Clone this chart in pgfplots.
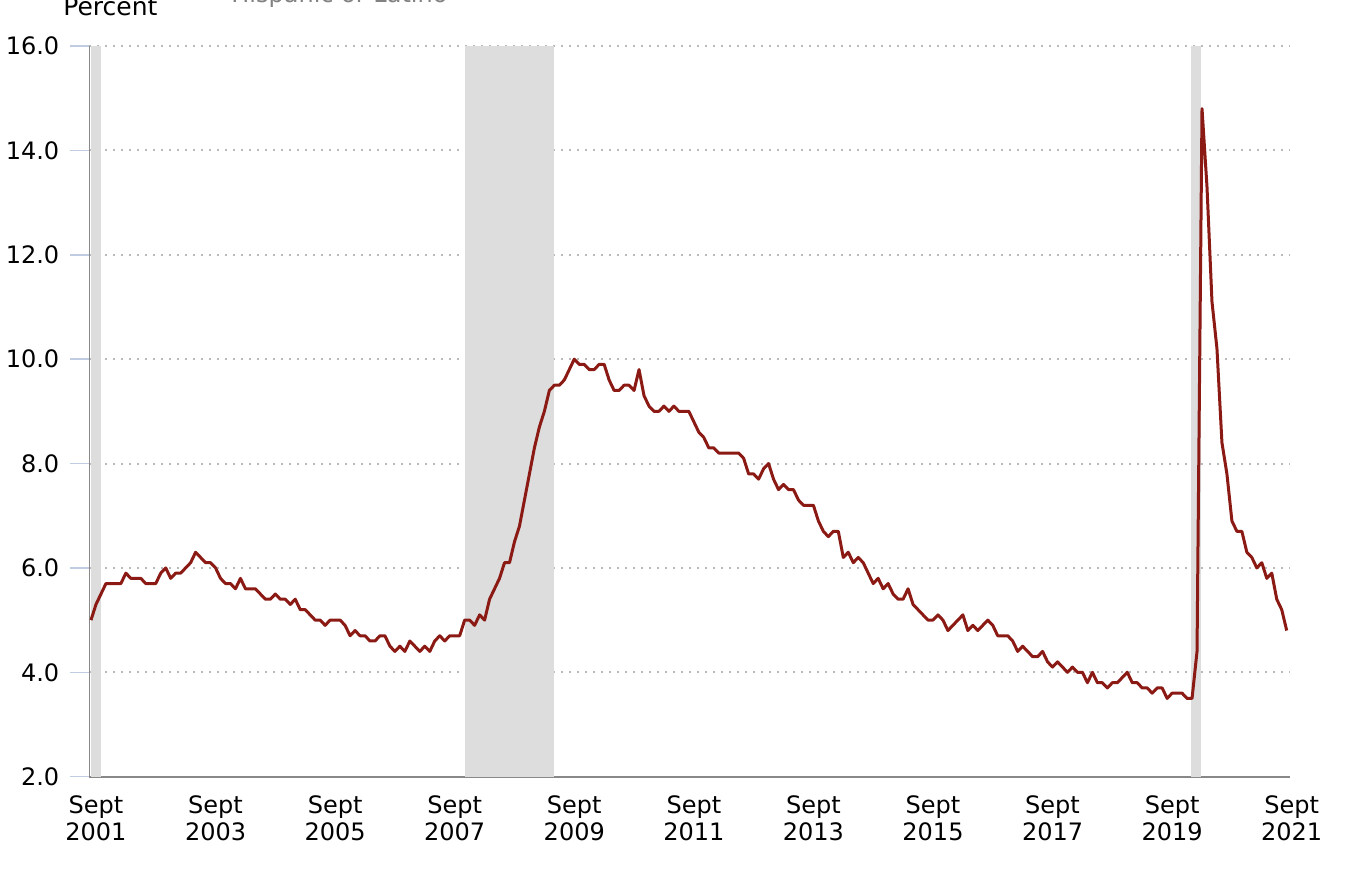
\documentclass[border=0pt]{standalone}
\usepackage{fontspec}
\setmainfont{DejaVu Sans}
\usepackage{pgfplots}
\pgfplotsset{compat=1.18}
\usepackage{pgfplotstable}
\definecolor{linered}{RGB}{139,26,20}
\definecolor{recess}{RGB}{221,221,221}
\definecolor{gridgray}{RGB}{185,185,185}
\definecolor{axgray}{RGB}{136,136,136}
\definecolor{tickblue}{RGB}{192,204,226}
\definecolor{legray}{RGB}{130,130,130}

\pgfplotstableread[row sep=\\]{
m u\\
0 5.0\\ 1 5.3\\ 2 5.5\\ 3 5.7\\
4 5.7\\ 5 5.7\\ 6 5.7\\ 7 5.9\\ 8 5.8\\ 9 5.8\\ 10 5.8\\ 11 5.7\\ 12 5.7\\ 13 5.7\\ 14 5.9\\ 15 6.0\\
16 5.8\\ 17 5.9\\ 18 5.9\\ 19 6.0\\ 20 6.1\\ 21 6.3\\ 22 6.2\\ 23 6.1\\ 24 6.1\\ 25 6.0\\ 26 5.8\\ 27 5.7\\
28 5.7\\ 29 5.6\\ 30 5.8\\ 31 5.6\\ 32 5.6\\ 33 5.6\\ 34 5.5\\ 35 5.4\\ 36 5.4\\ 37 5.5\\ 38 5.4\\ 39 5.4\\
40 5.3\\ 41 5.4\\ 42 5.2\\ 43 5.2\\ 44 5.1\\ 45 5.0\\ 46 5.0\\ 47 4.9\\ 48 5.0\\ 49 5.0\\ 50 5.0\\ 51 4.9\\
52 4.7\\ 53 4.8\\ 54 4.7\\ 55 4.7\\ 56 4.6\\ 57 4.6\\ 58 4.7\\ 59 4.7\\ 60 4.5\\ 61 4.4\\ 62 4.5\\ 63 4.4\\
64 4.6\\ 65 4.5\\ 66 4.4\\ 67 4.5\\ 68 4.4\\ 69 4.6\\ 70 4.7\\ 71 4.6\\ 72 4.7\\ 73 4.7\\ 74 4.7\\ 75 5.0\\
76 5.0\\ 77 4.9\\ 78 5.1\\ 79 5.0\\ 80 5.4\\ 81 5.6\\ 82 5.8\\ 83 6.1\\ 84 6.1\\ 85 6.5\\ 86 6.8\\ 87 7.3\\
88 7.8\\ 89 8.3\\ 90 8.7\\ 91 9.0\\ 92 9.4\\ 93 9.5\\ 94 9.5\\ 95 9.6\\ 96 9.8\\ 97 10.0\\ 98 9.9\\ 99 9.9\\
100 9.8\\ 101 9.8\\ 102 9.9\\ 103 9.9\\ 104 9.6\\ 105 9.4\\ 106 9.4\\ 107 9.5\\ 108 9.5\\ 109 9.4\\ 110 9.8\\ 111 9.3\\
112 9.1\\ 113 9.0\\ 114 9.0\\ 115 9.1\\ 116 9.0\\ 117 9.1\\ 118 9.0\\ 119 9.0\\ 120 9.0\\ 121 8.8\\ 122 8.6\\ 123 8.5\\
124 8.3\\ 125 8.3\\ 126 8.2\\ 127 8.2\\ 128 8.2\\ 129 8.2\\ 130 8.2\\ 131 8.1\\ 132 7.8\\ 133 7.8\\ 134 7.7\\ 135 7.9\\
136 8.0\\ 137 7.7\\ 138 7.5\\ 139 7.6\\ 140 7.5\\ 141 7.5\\ 142 7.3\\ 143 7.2\\ 144 7.2\\ 145 7.2\\ 146 6.9\\ 147 6.7\\
148 6.6\\ 149 6.7\\ 150 6.7\\ 151 6.2\\ 152 6.3\\ 153 6.1\\ 154 6.2\\ 155 6.1\\ 156 5.9\\ 157 5.7\\ 158 5.8\\ 159 5.6\\
160 5.7\\ 161 5.5\\ 162 5.4\\ 163 5.4\\ 164 5.6\\ 165 5.3\\ 166 5.2\\ 167 5.1\\ 168 5.0\\ 169 5.0\\ 170 5.1\\ 171 5.0\\
172 4.8\\ 173 4.9\\ 174 5.0\\ 175 5.1\\ 176 4.8\\ 177 4.9\\ 178 4.8\\ 179 4.9\\ 180 5.0\\ 181 4.9\\ 182 4.7\\ 183 4.7\\
184 4.7\\ 185 4.6\\ 186 4.4\\ 187 4.5\\ 188 4.4\\ 189 4.3\\ 190 4.3\\ 191 4.4\\ 192 4.2\\ 193 4.1\\ 194 4.2\\ 195 4.1\\
196 4.0\\ 197 4.1\\ 198 4.0\\ 199 4.0\\ 200 3.8\\ 201 4.0\\ 202 3.8\\ 203 3.8\\ 204 3.7\\ 205 3.8\\ 206 3.8\\ 207 3.9\\
208 4.0\\ 209 3.8\\ 210 3.8\\ 211 3.7\\ 212 3.7\\ 213 3.6\\ 214 3.7\\ 215 3.7\\ 216 3.5\\ 217 3.6\\ 218 3.6\\ 219 3.6\\
220 3.5\\ 221 3.5\\ 222 4.4\\ 223 14.8\\ 224 13.3\\ 225 11.1\\ 226 10.2\\ 227 8.4\\ 228 7.8\\ 229 6.9\\ 230 6.7\\ 231 6.7\\
232 6.3\\ 233 6.2\\ 234 6.0\\ 235 6.1\\ 236 5.8\\ 237 5.9\\ 238 5.4\\ 239 5.2\\ 240 4.8\\
}\unemp

\begin{document}
\begin{tikzpicture}
\begin{axis}[name=ax,
  scale only axis, width=600.35pt, height=365.35pt,
  xmin=-0.34, xmax=240.66, ymin=2, ymax=16,
  axis x line*=bottom, axis y line*=left,
  x axis line style={draw=axgray, line width=1.1pt, -},
  y axis line style={draw=axgray, line width=0.75pt, -},
  ytick={2,4,...,16},
  /pgf/number format/assume math mode=true,
  yticklabel style={/pgf/number format/fixed, /pgf/number format/fixed zerofill, /pgf/number format/precision=1, xshift=-2pt},
  xtick={0,24,...,240},
  xticklabels={Sept\\2001,Sept\\2003,Sept\\2005,Sept\\2007,Sept\\2009,Sept\\2011,Sept\\2013,Sept\\2015,Sept\\2017,Sept\\2019,Sept\\2021},
  xticklabel style={align=center, yshift=3.5pt, xshift=2.5pt},
  tick label style={font=\fontsize{12}{13.5}\selectfont, text=black},
  ymajorgrids, grid style={draw=gridgray, line width=1pt, dash pattern=on 1pt off 3pt},
  tick align=outside, major tick length=9.5pt,
  xtick style={draw=none}, ytick style={draw=tickblue, line width=0.75pt},
]
\addplot[fill=recess, draw=none] coordinates {(0,2) (0,16) (2,16) (2,2)} -- cycle;
\addplot[fill=recess, draw=none] coordinates {(75,2) (75,16) (93,16) (93,2)} -- cycle;
\addplot[fill=recess, draw=none] coordinates {(220.8,2) (220.8,16) (222.8,16) (222.8,2)} -- cycle;
\addplot[linered, line width=1.5pt, line join=round, mark=none] table[x=m, y=u] {\unemp};
\end{axis}
\node[anchor=base west, font=\fontsize{12.5}{15}\selectfont] at ([shift={(-16.5pt,15pt)}]ax.north west) {Percent};
\node[anchor=base west, font=\fontsize{12}{14}\selectfont, text=legray] at ([shift={(67.5pt,21.5pt)}]ax.north west) {Hispanic or Latino};
\pgfresetboundingbox
\path[use as bounding box] ([shift={(-44.65pt,-51.65pt)}]ax.south west) rectangle ([shift={(33pt,23pt)}]ax.north east);
\end{tikzpicture}
\end{document}
